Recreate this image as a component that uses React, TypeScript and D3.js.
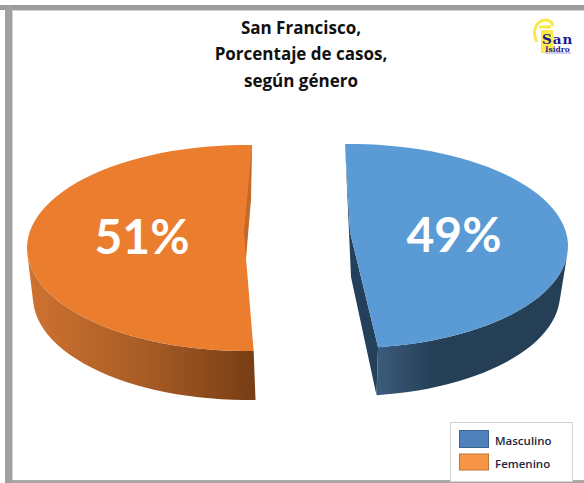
import React from "react";
import * as d3 from "d3";

const categories = ["Femenino", "Masculino"];
const values = [51, 49];
const labels = ["51%", "49%"];
const titleLines = ["San Francisco,", "Porcentaje de casos,", "según género"];
const legendItems = ["Masculino", "Femenino"];

const W = 584, H = 483;
const rad = (d: number) => (d * Math.PI) / 180;

const pie = d3.pie<number>().sort(null).startAngle(rad(178)).endAngle(rad(538));
const arcs = pie(values);

const geom = [
  { cx: 246, cy: 248, rx: 219, ry: 103, apex: [246, 258] as [number, number], top: "#EB7D2F", label: [142, 254], sx: 0.982, dx: 2, depth: 49 },
  { cx: 350, cy: 246, rx: 218, ry: 102, apex: [350, 232] as [number, number], top: "#5B9BD5", label: [454, 252], sx: 0.966, dx: -0.5, depth: 48 },
];

function pts(i: number, a0: number, a1: number) {
  const g = geom[i];
  const s = d3.scaleLinear().domain([0, 60]).range([a0, a1]);
  return d3.range(61).map((k) => {
    const t = s(k);
    return [g.cx + g.rx * Math.sin(t), g.cy - g.ry * Math.cos(t)] as [number, number];
  });
}

const line = d3.line();

export default function App() {
  const fA0 = arcs[0].startAngle, fA1 = arcs[0].endAngle;
  const mA0 = arcs[1].startAngle - 2 * Math.PI - rad(2.9), mA1 = arcs[1].endAngle - 2 * Math.PI - rad(5.4);
  const fP = pts(0, fA0, fA1);
  const mP = pts(1, mA0, mA1);
  const fTop = line([...fP, geom[0].apex]) + "Z";
  const mTop = line([...mP, geom[1].apex]) + "Z";

  const sideOf = (i: number, rim: [number, number][]) => {
    const g = geom[i];
    const low = rim.slice().reverse().map((p) => [g.cx + g.dx + (p[0] - g.cx) * g.sx, p[1] + g.depth] as [number, number]);
    return line([...rim, ...low]) + "Z";
  };
  const fRim = fP.filter((p) => p[1] >= geom[0].cy + 5);
  const mRim = mP.filter((p) => p[1] >= geom[1].cy + 5);

  const mFirst = mP[0];
  const mLast = mP[mP.length - 1];
  const wall = line([mFirst, [351, 277], [376.5, mLast[1] + 48], mLast, geom[1].apex]) + "Z";
  const fFirst = fP[fP.length - 1];
  const sliver = line([fFirst, [244, 232], [246, 258], [251, 200]]) + "Z";

  return (
    <svg width={W} height={H} style={{ position: "absolute", left: 0, top: 0, background: "#fff" }}>
      <defs>
        <linearGradient id="og" x1="0" x2="1" y1="0" y2="0">
          <stop offset="0" stopColor="#CF7230" />
          <stop offset="0.5" stopColor="#A95D26" />
          <stop offset="1" stopColor="#773D14" />
        </linearGradient>
        <linearGradient id="bg" x1="0" x2="1" y1="0" y2="0">
          <stop offset="0" stopColor="#3C5C7E" />
          <stop offset="0.3" stopColor="#243F56" />
          <stop offset="1" stopColor="#243F56" />
        </linearGradient>
      </defs>

      {/* frame */}
      <rect x={0} y={5} width={W} height={5} fill="#9C9C9C" />
      <rect x={5} y={5} width={7} height={H - 5} fill="#A0A0A0" />
      <rect x={12} y={10} width={1} height={H - 13} fill="#D4D4D4" />
      <rect x={13} y={10} width={W} height={1} fill="#D4D4D4" />
      <rect x={12} y={480} width={W} height={3} fill="#A8A8A8" />

      {/* title */}
      <text textAnchor="middle" fontFamily="'Open Sans', sans-serif" fontWeight={700} fontSize={17} fill="#111">
        {titleLines.map((t, i) => (
          <tspan key={t} x={301} y={33.5 + i * 26.5}>{t}</tspan>
        ))}
      </text>

      {/* logo */}
      <g>
        <path d="M537 42 C531 30 537 21 545 20 C549 20 552 22 553 26" fill="none" stroke="#F9E84A" strokeWidth={3} />
        <path d="M539 27 L551 27" stroke="#F9E84A" strokeWidth={3} />
        <rect x={541} y={30} width={12} height={23} fill="#FFE94A" />
        <rect x={545} y={52} width={26} height={2} fill="#C9CBEF" />
        <text x={542} y={43.5} fontFamily="'DejaVu Serif', serif" fontWeight={700} fontSize={13.5} fill="#1B1A8C" letterSpacing={1}>San</text>
        <text x={545} y={52} fontFamily="'DejaVu Serif', serif" fontWeight={700} fontSize={7.5} fill="#27268F">Isidro</text>
      </g>

      {/* slices */}
      <path d={wall ?? ""} fill="#24405A" />
      <path d={sideOf(0, fRim)} fill="url(#og)" />
      <path d={sideOf(1, mRim)} fill="url(#bg)" />
      <path d={fTop} fill={geom[0].top} />
      <path d={sliver ?? ""} fill="#C4692A" />
      <path d={mTop} fill={geom[1].top} />

      {/* labels */}
      {labels.map((l, i) => (
        <text key={l} x={geom[i].label[0]} y={geom[i].label[1]} textAnchor="middle"
          fontFamily="Lato, sans-serif" fontWeight={700} fontSize={48} fill="#fff">{l}</text>
      ))}

      {/* legend */}
      <rect x={450.5} y={422.5} width={122} height={59} fill="#fff" stroke="#D2D2D2" strokeWidth={1} />
      {legendItems.map((l, i) => (
        <g key={l}>
          <rect x={459.5} y={430.5 + i * 23.5} width={29} height={i ? 16 : 17}
            fill={i ? "#F79646" : "#4F81BD"} stroke={i ? "#BE7533" : "#3A6390"} />
          <text x={495} y={445 + i * 23} fontFamily="'Open Sans', sans-serif" fontWeight={600} fontSize={11.5} fill="#1E2640">{l}</text>
        </g>
      ))}
    </svg>
  );
}
